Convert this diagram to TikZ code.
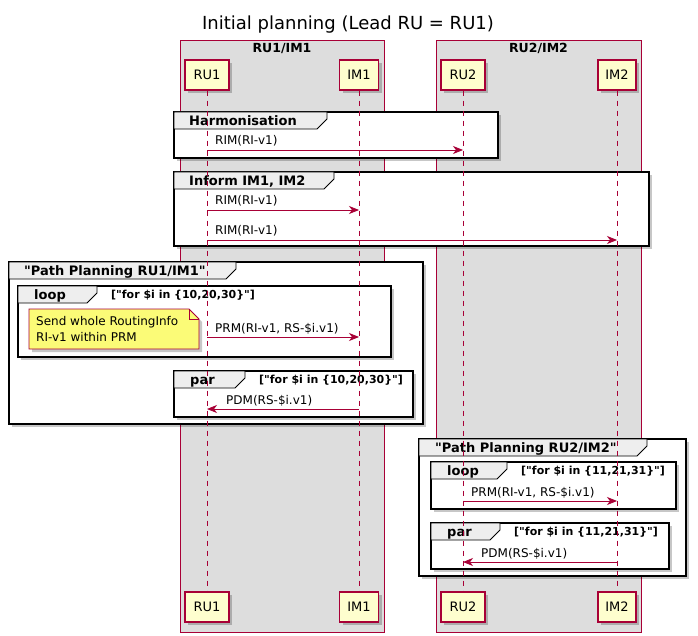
\documentclass[tikz,border=0pt]{standalone}
\usepackage{fontspec}
\setmainfont{DejaVu Sans}[Ligatures=TeXOff]
\usetikzlibrary{arrows.meta,shadows}
\definecolor{crim}{HTML}{A80036}
\definecolor{partfill}{HTML}{FEFECE}
\definecolor{boxfill}{HTML}{DDDDDD}
\definecolor{notefill}{HTML}{FBFB77}
\definecolor{tabfill}{HTML}{EEEEEE}
\newcommand{\grpframe}[5]{%
  \draw[grp] (#1,#2) rectangle (#3,#4);
  \draw[grptab] (#1,#2) -- (#5,#2) -- (#5,#2+7) -- (#5-10,#2+17) -- (#1,#2+17) -- cycle;
}
\begin{document}
\begin{tikzpicture}[x=1pt,y=-1pt,
  shad/.style={drop shadow={shadow xshift=3pt,shadow yshift=-3pt,fill=black,opacity=0.22}},
  part/.style={draw=crim,fill=partfill,line width=1.2pt,minimum height=30pt,inner sep=0pt,font=\fontsize{13}{15}\selectfont,shad},
  boxbg/.style={draw=crim,fill=boxfill,line width=0.9pt},
  boxtitle/.style={anchor=base,inner sep=0pt,font=\fontsize{12.5}{15}\bfseries\selectfont},
  grp/.style={draw=black,fill=white,line width=1.7pt,shad},
  grptab/.style={draw=black,fill=tabfill,line width=0.9pt},
  grplabel/.style={anchor=base west,inner sep=0pt,font=\fontsize{13}{15}\bfseries\selectfont},
  cond/.style={anchor=base west,inner sep=0pt,font=\fontsize{11}{13}\bfseries\selectfont},
  life/.style={draw=crim,line width=0.9pt,dash pattern=on 5pt off 5pt},
  msg/.style={draw=crim,line width=0.9pt,-{Stealth[length=10pt,width=8pt,inset=3pt]}},
  msglabel/.style={anchor=base west,inner sep=0pt,font=\fontsize{12}{14}\selectfont},
  notebox/.style={draw=crim,fill=notefill,line width=0.9pt,shad},
  notetext/.style={anchor=base west,inner sep=0pt,font=\fontsize{12}{14}\selectfont},
  titletext/.style={anchor=base,inner sep=0pt,font=\fontsize{18}{21}\selectfont}
]
\useasboundingbox (0,0) rectangle (698,636);
\fill[white] (0,0) rectangle (698,636);

% title
\node[titletext] (title) at (348,30) {Initial planning (Lead RU = RU1)};

% participant boxes
\draw[boxbg] (180,40) rectangle (384,632);
\draw[boxbg] (436,40) rectangle (641,632);
\node[boxtitle] (b1title) at (282,53) {RU1/IM1};
\node[boxtitle] (b2title) at (538.5,53) {RU2/IM2};

% groups
\grpframe{174}{112}{498}{158}{327}
\grpframe{174}{172}{649}{246}{334}
\grpframe{9}{262}{423}{424}{236}
\grpframe{18}{286}{391}{357}{97}
\grpframe{174}{371}{413}{417}{245}
\grpframe{419}{439}{686}{576}{647}
\grpframe{431}{462}{676}{509}{507}
\grpframe{431}{523}{669}{569}{500}

\node[grplabel] (g1) at (189,125.5) {Harmonisation};
\node[grplabel] (g2) at (189,185.5) {Inform IM1, IM2};
\node[grplabel] (g3) at (24,275.5) {"Path Planning RU1/IM1"};
\node[grplabel] (g4) at (34,299.5) {loop};
\node[cond] (c4) at (111,298) {["for \$i in \{10,20,30\}"]};
\node[grplabel] (g5) at (190,384.5) {par};
\node[cond] (c5) at (259,383) {["for \$i in \{10,20,30\}"]};
\node[grplabel] (g6) at (435,452.5) {"Path Planning RU2/IM2"};
\node[grplabel] (g7) at (447,475.5) {loop};
\node[cond] (c7) at (521,474) {["for \$i in \{11,21,31\}"]};
\node[grplabel] (g8) at (447,536.5) {par};
\node[cond] (c8) at (514,535) {["for \$i in \{11,21,31\}"]};

% participants
\node[part,minimum width=44pt] (RU1t) at (207,75) {RU1};
\node[part,minimum width=39pt] (IM1t) at (359,75) {IM1};
\node[part,minimum width=44pt] (RU2t) at (463,75) {RU2};
\node[part,minimum width=38pt] (IM2t) at (617,75) {IM2};
\node[part,minimum width=44pt] (RU1b) at (207,607) {RU1};
\node[part,minimum width=39pt] (IM1b) at (359,607) {IM1};
\node[part,minimum width=44pt] (RU2b) at (463,607) {RU2};
\node[part,minimum width=38pt] (IM2b) at (617,607) {IM2};

% lifelines
\draw[life] (RU1t.south) -- (RU1b.north);
\draw[life] (IM1t.south) -- (IM1b.north);
\draw[life] (RU2t.south) -- (RU2b.north);
\draw[life] (IM2t.south) -- (IM2b.north);

% message endpoints
\coordinate (m1a) at (207,150); \coordinate (m1b) at (463,150);
\coordinate (m2a) at (207,210); \coordinate (m2b) at (359,210);
\coordinate (m3a) at (207,240); \coordinate (m3b) at (617,240);
\coordinate (m4a) at (207,337); \coordinate (m4b) at (359,337);
\coordinate (m5a) at (359,409); \coordinate (m5b) at (207,409);
\coordinate (m6a) at (463,501); \coordinate (m6b) at (617,501);
\coordinate (m7a) at (617,562); \coordinate (m7b) at (463,562);

\draw[msg] (m1a) -- (m1b);
\draw[msg] (m2a) -- (m2b);
\draw[msg] (m3a) -- (m3b);
\draw[msg] (m4a) -- (m4b);
\draw[msg] (m5a) -- (m5b);
\draw[msg] (m6a) -- (m6b);
\draw[msg] (m7a) -- (m7b);

\node[msglabel] (l1) at (215,145) {RIM(RI-v1)};
\node[msglabel] (l2) at (215,205) {RIM(RI-v1)};
\node[msglabel] (l3) at (215,235) {RIM(RI-v1)};
\node[msglabel] (l4) at (215,332) {PRM(RI-v1, RS-\$i.v1)};
\node[msglabel] (l5) at (226,404) {PDM(RS-\$i.v1)};
\node[msglabel] (l6) at (471,496) {PRM(RI-v1, RS-\$i.v1)};
\node[msglabel] (l7) at (481,557) {PDM(RS-\$i.v1)};

% note
\draw[notebox] (29,309) -- (189,309) -- (199,319) -- (199,349) -- (29,349) -- cycle;
\draw[draw=crim,line width=0.9pt] (189,309) -- (189,319) -- (199,319);
\node[notetext] (n1) at (36,325.5) {Send whole RoutingInfo};
\node[notetext] (n2) at (36,341) {RI-v1 within PRM};
\end{tikzpicture}
\end{document}
